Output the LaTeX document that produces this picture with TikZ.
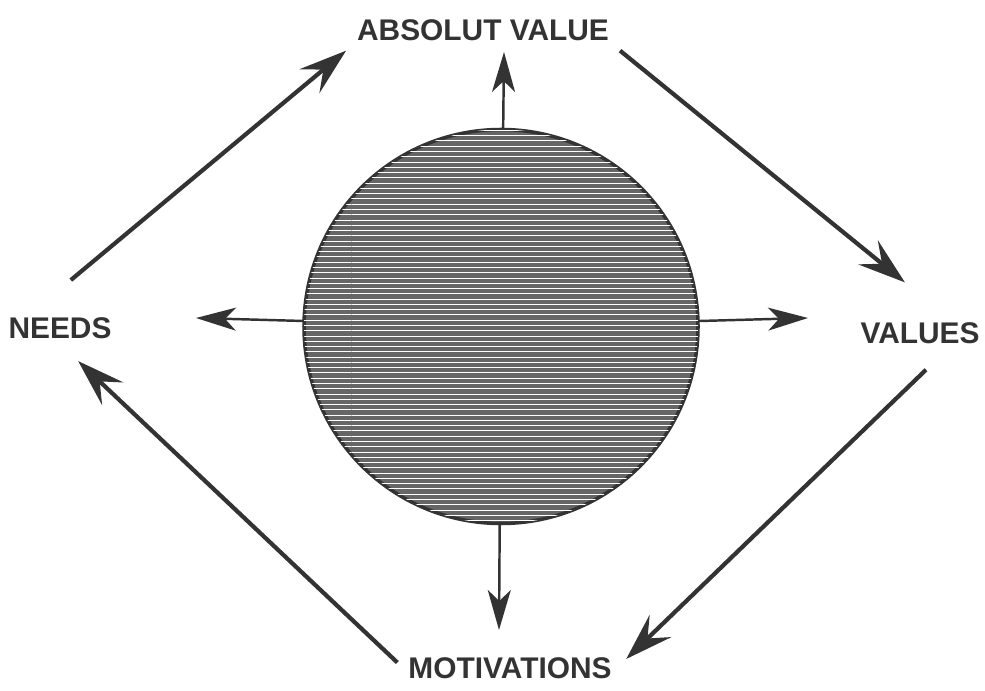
\documentclass[tikz,border=0pt]{standalone}
\usepackage{fontspec}
\usepackage{tikz}
\usetikzlibrary{calc, arrows.meta, patterns}
\newfontfamily\lblfont{Liberation Sans}
\definecolor{ink}{HTML}{333333}

\tikzset{
  lbl/.style={font=\lblfont\bfseries\fontsize{17}{17}\selectfont, text=ink, inner sep=0.1cm},
  bigarrow/.style={draw=ink, line width=2.4pt,
    -{Stealth[length=0.95cm, width=0.62cm, inset=0.36cm]}},
  thinarrow/.style={draw=ink, line width=1.4pt,
    -{Stealth[length=0.8cm, width=0.46cm, inset=0.22cm]}},
  disc/.style={circle, draw=ink, line width=2pt, minimum size=7.88cm,
    fill=ink!75, postaction={pattern=horizontal lines, pattern color=white!85}}
}

\begin{document}
\begin{tikzpicture}
  \useasboundingbox (0,0) rectangle (19.7,13.8);

  % ---- labels ----
  \node[lbl] (absval) at (9.66, 13.2) {ABSOLUT VALUE};
  \node[lbl] (needs)  at (1.2, 7.24)  {NEEDS};
  \node[lbl] (values) at (18.4, 7.14) {VALUES};
  \node[lbl] (motiv)  at (10.2, 0.44) {MOTIVATIONS};

  % ---- centre and the four small arrows ----
  \coordinate (mid)      at (10.02, 7.27);
  \coordinate (uptip)    at (10.08, 12.76);
  \coordinate (lefttip)  at (3.92, 7.44);
  \coordinate (righttip) at (16.16, 7.44);
  \coordinate (downtip)  at (9.98, 1.2);
  \foreach \t in {uptip, lefttip, righttip, downtip}
    \draw[thinarrow] (mid) -- (\t);
  \node[disc] (core) at (mid) {};

  % ---- cycle round the disc ----
  \draw[bigarrow, shorten <=1cm, shorten >=0.15cm] (needs.150) -- (absval.south west);
  \draw[bigarrow, shorten <=0.15cm, shorten >=1.1cm] (absval.south east) -- (values.30);
  \draw[bigarrow, shorten <=0.6cm, shorten >=0.26cm] (values.-30) -- (motiv.east);
  \draw[bigarrow, shorten <=0.16cm, shorten >=0.5cm] (motiv.west) -- (needs.south);
\end{tikzpicture}
\end{document}
